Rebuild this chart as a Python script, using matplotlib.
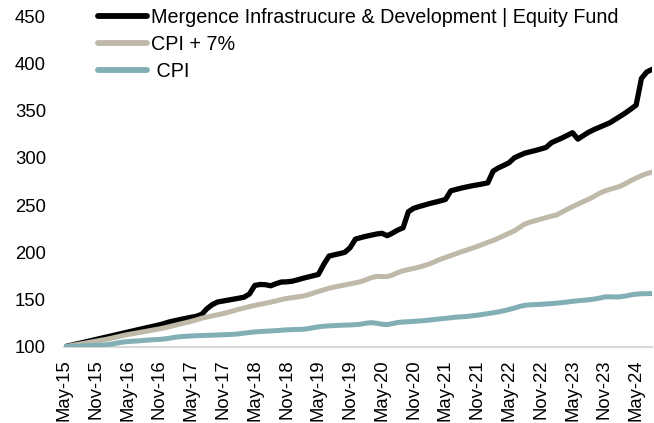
import matplotlib
matplotlib.use("Agg")
import matplotlib.pyplot as plt
import numpy as np

plt.rcParams['font.family'] = ['Liberation Sans', 'DejaVu Sans']

start_month = "2015-05"
tick_labels = ["May-15", "Nov-15", "May-16", "Nov-16", "May-17", "Nov-17", "May-18",
               "Nov-18", "May-19", "Nov-19", "May-20", "Nov-20", "May-21", "Nov-21",
               "May-22", "Nov-22", "May-23", "Nov-23", "May-24"]

fund = [100.0, 101.3, 102.6, 103.9, 105.2, 106.5, 107.8, 109.1, 110.4, 111.7,
        113.0, 114.3, 115.6, 116.9, 118.2, 119.5, 120.8, 122.0, 123.3, 124.9,
        126.6, 127.8, 129.0, 130.2, 131.3, 132.4, 134.5, 140.5, 144.8, 147.5,
        148.5, 149.5, 150.5, 151.5, 152.6, 156.0, 165.0, 166.0, 165.8, 164.6,
        166.8, 168.6, 168.8, 169.4, 170.8, 172.4, 173.8, 175.2, 176.6, 187.0,
        196.0, 197.4, 198.6, 200.0, 205.0, 214.0, 215.6, 217.0, 218.2, 219.4,
        220.2, 217.6, 220.4, 223.6, 226.0, 243.0, 246.6, 248.4, 250.0, 251.6,
        253.0, 254.4, 256.0, 265.0, 266.6, 268.0, 269.2, 270.4, 271.4, 272.4,
        273.6, 286.0, 289.4, 292.0, 294.8, 300.0, 302.6, 305.0, 306.4, 307.8,
        309.4, 311.0, 316.0, 318.5, 321.0, 323.8, 326.6, 319.8, 323.5, 327.0,
        329.8, 332.2, 334.6, 337.0, 340.5, 344.0, 347.6, 351.6, 355.8, 384.0,
        390.8, 393.6]

cpi_plus7 = [100.0, 101.0, 102.0, 103.0, 104.0, 105.0, 106.0, 107.0, 108.0, 109.2,
             110.5, 111.8, 113.0, 114.0, 115.0, 116.0, 117.0, 118.0, 119.0, 120.2,
             121.5, 122.9, 124.3, 125.6, 127.0, 128.6, 130.3, 131.6, 132.8, 134.0,
             135.2, 136.6, 138.2, 139.8, 141.2, 142.6, 143.9, 145.0, 146.1, 147.3,
             148.6, 150.0, 151.2, 152.0, 152.8, 153.6, 155.0, 156.8, 158.6, 160.3,
             162.0, 163.2, 164.4, 165.5, 166.6, 167.8, 169.0, 171.0, 173.2, 174.6,
             174.4, 174.3, 176.0, 178.6, 180.5, 181.8, 183.0, 184.4, 186.0, 187.8,
             190.2, 192.6, 194.6, 196.6, 198.6, 200.6, 202.4, 204.3, 206.2, 208.4,
             210.6, 212.6, 215.0, 217.6, 220.2, 222.8, 226.4, 230.0, 232.0, 233.6,
             235.2, 236.8, 238.3, 239.6, 242.6, 245.6, 248.4, 251.0, 253.6, 256.2,
             259.0, 262.2, 264.8, 266.6, 268.2, 270.0, 272.8, 275.8, 278.6, 281.2,
             283.4, 284.8]

cpi = [100.0, 100.3, 100.6, 100.9, 101.2, 101.4, 101.6, 101.9, 102.2, 103.0,
       104.0, 105.0, 105.6, 106.0, 106.3, 106.8, 107.2, 107.6, 107.9, 108.4,
       109.2, 110.2, 110.8, 111.2, 111.5, 111.8, 112.0, 112.2, 112.4, 112.6,
       112.8, 113.0, 113.3, 113.8, 114.5, 115.2, 115.8, 116.2, 116.5, 116.8,
       117.2, 117.6, 118.0, 118.2, 118.4, 118.6, 119.2, 120.2, 121.2, 121.8,
       122.2, 122.5, 122.8, 123.0, 123.2, 123.5, 124.0, 125.0, 125.6, 125.0,
       124.0, 123.6, 124.6, 125.8, 126.3, 126.6, 127.0, 127.4, 127.8, 128.4,
       129.0, 129.6, 130.2, 130.8, 131.4, 131.8, 132.2, 132.8, 133.5, 134.3,
       135.2, 136.0, 137.0, 138.2, 139.5, 141.0, 142.8, 144.0, 144.5, 144.8,
       145.0, 145.4, 145.8, 146.3, 146.8, 147.5, 148.2, 148.8, 149.3, 149.8,
       150.5, 151.5, 152.8, 153.0, 152.8, 153.0, 153.8, 155.0, 155.8, 156.2,
       156.3, 156.4]

labels = ["Mergence Infrastrucure & Development | Equity Fund", "CPI + 7%", " CPI"]
colors = ["#000000", "#BEB9A8", "#82AFB5"]

x = np.arange(len(fund))

fig = plt.figure(figsize=(6.54, 4.23), dpi=100)
ax = fig.add_axes([0.098, 0.18, 0.899, 0.782])

lines = []
for series, lab, col, lw in zip([fund, cpi_plus7, cpi], labels, colors, [3.8, 3.6, 3.6]):
    l, = ax.plot(x, series, color=col, lw=lw, label=lab, solid_capstyle='round',
                 solid_joinstyle='round')
    lines.append(l)

ax.set_xlim(0, len(fund) - 1)
ax.set_ylim(100, 450)
ax.set_yticks(np.arange(100, 451, 50))
ax.set_xticks(np.arange(0, 6 * len(tick_labels), 6))
ax.set_xticklabels(tick_labels, rotation=90)
ax.tick_params(axis='both', length=0, labelsize=13.3, colors='#000000')
ax.tick_params(axis='x', pad=9)
ax.tick_params(axis='y', pad=13)
for s in ['top', 'right', 'left']:
    ax.spines[s].set_visible(False)
ax.spines['bottom'].set_color('#D9D9D9')
ax.spines['bottom'].set_linewidth(1.5)
ax.spines['bottom'].set_zorder(0)

leg = fig.legend(handles=lines, labels=labels, loc='upper left',
                 bbox_to_anchor=(0.1495, 0.982), frameon=False, fontsize=14.2,
                 handlelength=2.5, handletextpad=0.2, labelspacing=0.42,
                 borderpad=0.0, borderaxespad=0.0)
for lh in leg.get_lines():
    lh.set_linewidth(4.2)

fig.savefig("out.png", dpi=100)
